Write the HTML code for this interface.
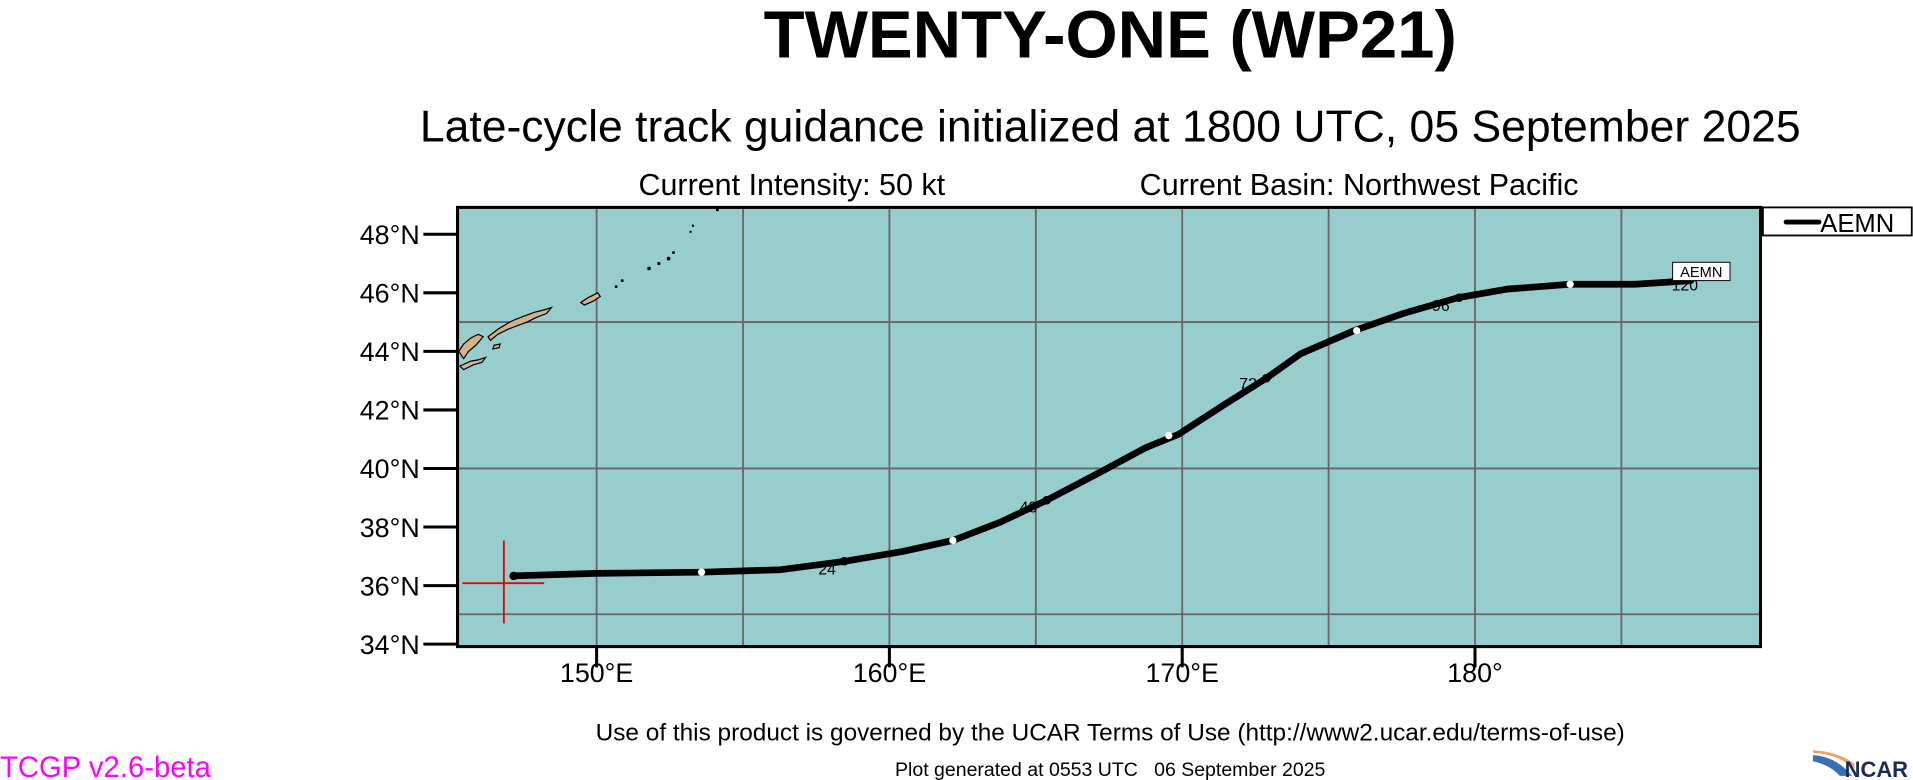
<!DOCTYPE html>
<html><head><meta charset="utf-8"><style>
html,body{margin:0;padding:0;background:#fff;overflow:hidden}
svg{display:block}
text{font-family:"Liberation Sans",Arial,sans-serif}
</style></head><body>
<svg width="1913" height="780" viewBox="0 0 1568 639.35" xmlns="http://www.w3.org/2000/svg">
<text x="910" y="47" font-size="55" font-weight="bold" text-anchor="middle">TWENTY-ONE (WP21)</text>
<text x="910" y="116" font-size="36.5" text-anchor="middle">Late-cycle track guidance initialized at 1800 UTC, 05 September 2025</text>
<text x="649" y="160" font-size="25" text-anchor="middle">Current Intensity: 50 kt</text>
<text x="1114" y="160" font-size="25" text-anchor="middle">Current Basin: Northwest Pacific</text>
<rect x="375" y="170" width="1068" height="360" fill="#97cecd"/>
<g stroke="#666" stroke-width="1.5">
<line x1="489" y1="170" x2="489" y2="530"/><line x1="609" y1="170" x2="609" y2="530"/>
<line x1="729" y1="170" x2="729" y2="530"/><line x1="849" y1="170" x2="849" y2="530"/>
<line x1="969" y1="170" x2="969" y2="530"/><line x1="1089" y1="170" x2="1089" y2="530"/>
<line x1="1209" y1="170" x2="1209" y2="530"/><line x1="1329" y1="170" x2="1329" y2="530"/>
<line x1="375" y1="264" x2="1443" y2="264"/><line x1="375" y1="384" x2="1443" y2="384"/>
<line x1="375" y1="503.5" x2="1443" y2="503.5"/>
</g>
<g fill="#d2b48c" stroke="#000" stroke-width="1">
<path d="M376,288 L380,282 L386,277 L392,274 L396,276 L390,283 L384,288 L380,294 Z"/>
<path d="M400,276 L408,270 L416,265 L422,262 L430,259 L438,256 L446,254 L452,252 L448,257 L440,260 L432,264 L424,267 L416,270 L408,274 L402,279 Z"/>
<path d="M476,248 L482,244 L490,240 L492,243 L486,247 L479,250 Z"/>
<path d="M377,300 L386,296 L392,295 L398,293 L395,297 L388,299 L380,303 Z"/>
<path d="M405,283 L410,282 L409,285 L404,286 Z"/>
</g>
<g fill="#000">
<circle cx="505" cy="235" r="1.2"/><circle cx="510" cy="230" r="1.2"/><circle cx="532" cy="220" r="1.5"/>
<circle cx="540" cy="216" r="1.3"/><circle cx="548" cy="212" r="1.5"/><circle cx="552" cy="207" r="1.2"/>
<circle cx="566" cy="190" r="1"/><circle cx="568" cy="185" r="1"/><circle cx="588" cy="172" r="1.2"/>
</g>
<rect x="375" y="170" width="1068" height="360" fill="none" stroke="#000" stroke-width="2.5"/>
<g stroke="#000" stroke-width="2.5">
<line x1="347" y1="192" x2="375" y2="192"/><line x1="347" y1="240" x2="375" y2="240"/>
<line x1="347" y1="288" x2="375" y2="288"/><line x1="347" y1="336" x2="375" y2="336"/>
<line x1="347" y1="384" x2="375" y2="384"/><line x1="347" y1="432" x2="375" y2="432"/>
<line x1="347" y1="480" x2="375" y2="480"/><line x1="347" y1="528" x2="375" y2="528"/>
<line x1="489" y1="530" x2="489" y2="547"/><line x1="729" y1="530" x2="729" y2="547"/>
<line x1="969" y1="530" x2="969" y2="547"/><line x1="1209" y1="530" x2="1209" y2="547"/>
</g>
<g font-size="22" text-anchor="end">
<text x="344" y="200">48°N</text><text x="344" y="248">46°N</text><text x="344" y="296">44°N</text>
<text x="344" y="344">42°N</text><text x="344" y="392">40°N</text><text x="344" y="440">38°N</text>
<text x="344" y="488">36°N</text><text x="344" y="536">34°N</text>
</g>
<g font-size="22" text-anchor="middle">
<text x="489" y="559">150°E</text><text x="729" y="559">160°E</text><text x="969" y="559">170°E</text><text x="1209" y="559">180°</text>
</g>
<g stroke="#e00" stroke-width="1.5">
<line x1="413" y1="443" x2="413" y2="511"/><line x1="379" y1="478" x2="446" y2="478"/>
</g>
<polyline fill="none" stroke="#000" stroke-width="5.5" stroke-linejoin="round" stroke-linecap="round"
points="421,472 488,470 575,469 640,467 693,460 740,452 781,443 820,428 858,410 900,388 939,367 966,356 1003,332 1038,310 1066,290 1110,271 1150,257 1195,244 1235,237 1287,233 1340,233 1386,230"/>
<circle cx="421" cy="472" r="3.5" fill="#000"/>
<g fill="#000"><circle cx="692" cy="460" r="3.5"/><circle cx="858" cy="410" r="3.5"/><circle cx="1038" cy="310" r="3.5"/><circle cx="1196" cy="244" r="3.5"/></g>
<g fill="#fff"><circle cx="575" cy="469" r="3"/><circle cx="781" cy="443" r="3"/><circle cx="958" cy="357" r="3"/><circle cx="1112" cy="271" r="3"/><circle cx="1287" cy="233" r="3"/></g>
<g font-size="13" text-anchor="middle">
<text x="678" y="471">24</text><text x="843" y="420">48</text><text x="1023" y="319">72</text><text x="1181" y="255">96</text><text x="1381" y="238">120</text>
</g>
<rect x="1371" y="215" width="47" height="15" fill="#fff" stroke="#000" stroke-width="0.8"/>
<text x="1394.5" y="227" font-size="12" text-anchor="middle">AEMN</text>
<rect x="1445" y="170" width="122" height="23" fill="#fff" stroke="#000" stroke-width="1.5"/>
<line x1="1464" y1="182" x2="1491" y2="182" stroke="#000" stroke-width="4" stroke-linecap="round"/>
<text x="1492" y="190" font-size="21">AEMN</text>
<text x="910" y="607" font-size="20" text-anchor="middle">Use of this product is governed by the UCAR Terms of Use (http://www2.ucar.edu/terms-of-use)</text>
<text x="910" y="636" font-size="16" text-anchor="middle" xml:space="preserve" style="white-space:pre">Plot generated at 0553 UTC   06 September 2025</text>
<text x="0" y="637" font-size="24" fill="#ff00ff">TCGP v2.6-beta</text>
<path d="M1486,619 Q1505,620 1518,636 L1508,636 Q1500,627 1486,624 Z" fill="#3a6fb7"/>
<path d="M1486,617 Q1506,618 1520,630 L1520,626 Q1506,616 1486,615 Z" fill="#f0a060"/>
<text x="1512" y="637" font-size="18" font-weight="bold" fill="#1a2a5a">NCAR</text>
</svg>
</body></html>
